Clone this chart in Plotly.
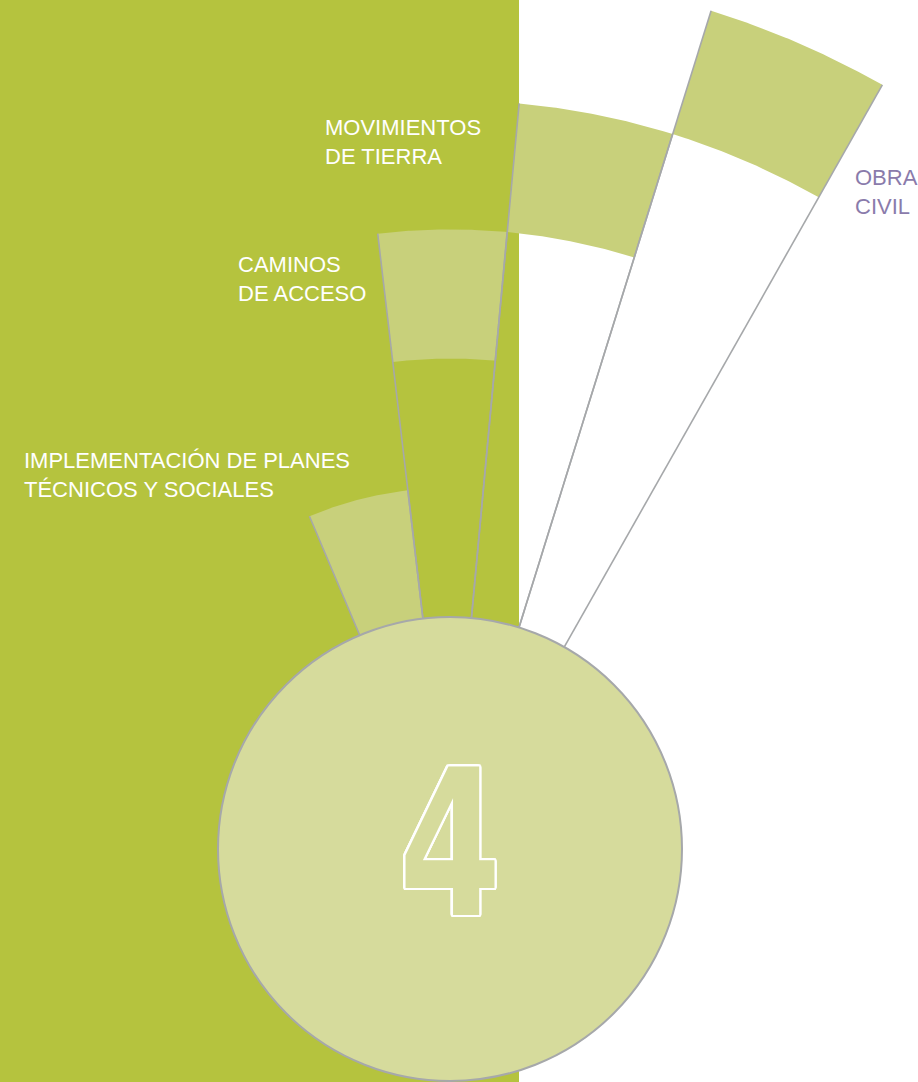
import numpy as np
import plotly.graph_objects as go

# ---- data: construction phases as a radial timeline (periods) ----
phases = ["IMPLEMENTACIÓN DE PLANES<br>TÉCNICOS Y SOCIALES",
          "CAMINOS<br>DE ACCESO",
          "MOVIMIENTOS<br>DE TIERRA",
          "OBRA<br>CIVIL"]
phase_start = [0, 2, 3, 4]
phase_end = [1, 3, 4, 5]
stage_label = "4"

# ---- layout constants (geometry / style) ----
W, H = 918, 1082
CX, CY = 450, 849          # pixel position of hub centre
R0 = 232                   # hub radius (axis units == px)
UNIT = 129.2               # radial length of one period
EDGES = [-22.9, -6.7, 5.3, 17.3, 29.5]   # wedge boundaries, degrees from vertical (clockwise)
GREEN_RIGHT = 519          # right edge of green panel (px)

BG_GREEN = "#b5c33e"
BAND = "#c8d07b"
HUB = "#d6db9c"
GRAY = "#a6a8aa"
LABEL_COLORS = ["white", "white", "white", "#8a7bab"]
LABEL_POS = [(22, 475), (236, 279), (323, 142), (853, 192)]   # px (left, middle)


def rad(v):
    return R0 + UNIT * v


def pt(r, deg):
    t = np.radians(deg)
    return r * np.sin(t), r * np.cos(t)


fig = go.Figure()

# bands (filled part of each wedge)
for i in range(len(phases)):
    a0, a1 = EDGES[i], EDGES[i + 1]
    r_in, r_out = rad(phase_start[i]), rad(phase_end[i])
    ang = np.linspace(a0, a1, 60)
    xo, yo = pt(r_out, ang)
    xi, yi = pt(r_in, ang[::-1])
    xs = np.concatenate([xo, xi, xo[:1]])
    ys = np.concatenate([yo, yi, yo[:1]])
    fig.add_trace(go.Scatter(x=xs, y=ys, mode="lines", fill="toself",
                             fillcolor=BAND, line=dict(width=0, color=BAND),
                             hoverinfo="skip", showlegend=False))

# wedge side lines
for i in range(len(phases)):
    r_out = rad(phase_end[i])
    for a in (EDGES[i], EDGES[i + 1]):
        x0, y0 = pt(0, a)
        x1, y1 = pt(r_out, a)
        fig.add_trace(go.Scatter(x=[x0, x1], y=[y0, y1], mode="lines",
                                 line=dict(color=GRAY, width=1.6),
                                 hoverinfo="skip", showlegend=False))

shapes = [
    dict(type="rect", xref="x", yref="y", layer="below",
         x0=0 - CX, x1=GREEN_RIGHT - CX, y0=CY - H, y1=CY,
         fillcolor=BG_GREEN, line=dict(width=0)),
    dict(type="circle", xref="x", yref="y", layer="above",
         x0=-R0, x1=R0, y0=-R0, y1=R0,
         fillcolor=HUB, line=dict(color=GRAY, width=2)),
]

annotations = []
for i, name in enumerate(phases):
    px, py = LABEL_POS[i]
    annotations.append(dict(x=px - CX, y=CY - py, xref="x", yref="y",
                            text=name, showarrow=False, xanchor="left",
                            yanchor="middle", align="left",
                            font=dict(family="Liberation Sans, Arial, sans-serif",
                                      size=22, color=LABEL_COLORS[i])))

offs = []
for k in range(16):
    t = 2 * np.pi * k / 16
    offs.append(f"{2.8*np.cos(t):.2f}px {2*np.sin(t):.2f}px 0 #ffffff")
shadow = ", ".join(offs)
annotations.append(dict(x=0, y=CY - 844, xref="x", yref="y", text=stage_label,
                        showarrow=False, xanchor="center", yanchor="middle",
                        font=dict(family="DejaVu Sans, sans-serif",
                                  size=204, color=HUB, weight=700, shadow=shadow)))

fig.update_layout(
    width=W, height=H, margin=dict(l=0, r=0, t=0, b=0),
    paper_bgcolor="white", plot_bgcolor="white",
    xaxis=dict(range=[-CX, W - CX], visible=False, fixedrange=True),
    yaxis=dict(range=[CY - H, CY], visible=False, fixedrange=True),
    shapes=shapes, annotations=annotations, showlegend=False,
)

post_js = """
document.body.style.margin = '0';
var gd = document.getElementById('{plot_id}');
gd.querySelectorAll('text.annotation-text').forEach(function (t) {
  if (t.textContent.trim() === '4') {
    var b = t.getBBox();
    var cx = b.x + b.width / 2;
    t.setAttribute('transform', 'translate(' + cx + ',0) scale(0.72,1) translate(' + (-cx) + ',0)');
  }
});
"""

fig.write_html("out.html", post_script=post_js, config={"displayModeBar": False})
